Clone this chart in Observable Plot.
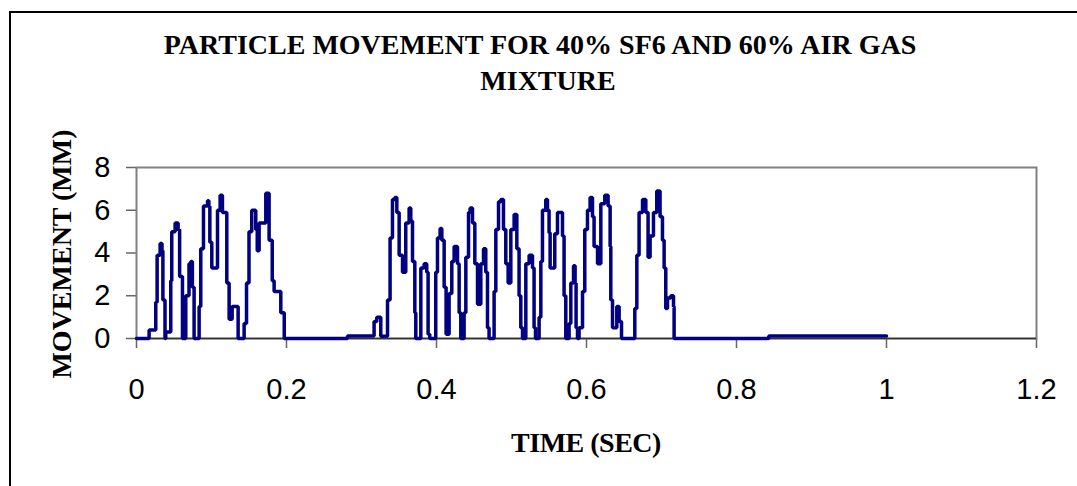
<!DOCTYPE html>
<html>
<head>
<meta charset="utf-8">
<script src="https://cdn.jsdelivr.net/npm/d3@7"></script>
<script src="https://cdn.jsdelivr.net/npm/@observablehq/plot@0.6"></script>
<style>
  html, body { margin: 0; padding: 0; background: #fff; overflow: hidden; }
  #wrap { position: relative; width: 1077px; height: 486px; overflow: hidden; background: #fff; }
  #outer { position: absolute; left: 9px; top: 11px; width: 1120px; height: 540px; border: 2.5px solid #000; box-sizing: border-box; }
  .ttl { position: absolute; font-family: "Liberation Serif", "Times New Roman", serif; font-weight: bold; font-size: 28px; color: #000; white-space: nowrap; line-height: 36px; }
  #chart { position: absolute; left: 0; top: 0; }
  #chart svg [aria-label="x-axis tick"] path, #chart svg [aria-label="y-axis tick"] path { stroke: #666; stroke-width: 1.5; }
</style>
</head>
<body>
<div id="wrap">
  <div id="outer"></div>
  <div id="chart"></div>
  <div class="ttl" id="t1" style="left:40px; width:1000px; top:27px; text-align:center;"></div>
  <div class="ttl" id="t2" style="left:48px; width:1000px; top:63px; text-align:center;"></div>
  <div class="ttl" id="xl" style="left:586px; top:443px; transform:translate(-50%,-50%); letter-spacing:-0.5px;"></div>
  <div class="ttl" id="yl" style="left:62px; top:254px; transform:translate(-50%,-50%) rotate(-90deg);"></div>
</div>
<script>
const titleLines = ["PARTICLE MOVEMENT FOR 40% SF6 AND 60% AIR GAS", "MIXTURE"];
const xTitle = "TIME (SEC)";
const yTitle = "MOVEMENT (MM)";
const xTicks = [0, 0.2, 0.4, 0.6, 0.8, 1, 1.2];
const yTicks = [0, 2, 4, 6, 8];

// time (sec) of each step and movement (mm) held from that time on
const times = [
  0, 0.0168, 0.0257, 0.0275, 0.0315, 0.034, 0.0352, 0.038, 0.039, 0.0457,
  0.047, 0.0515, 0.0555, 0.0575, 0.0613, 0.0657, 0.070, 0.0724, 0.0745, 0.0768,
  0.0835, 0.0857, 0.0893, 0.0947, 0.0965, 0.0978, 0.1004, 0.108, 0.1115, 0.1146,
  0.1204, 0.1235, 0.1275, 0.1355, 0.1435, 0.1467, 0.150, 0.1537, 0.159, 0.161,
  0.1635, 0.1724, 0.1768, 0.181, 0.1835, 0.1924, 0.197,
  0.2813, 0.3168, 0.3204, 0.3257, 0.3347, 0.3381, 0.3413, 0.3444, 0.3471, 0.3502,
  0.3547, 0.359, 0.3635, 0.3657, 0.368, 0.3711, 0.3724, 0.3791, 0.3835, 0.387,
  0.3888, 0.391, 0.399, 0.4013, 0.4048, 0.4071, 0.4102, 0.4128, 0.4168, 0.4204,
  0.4235, 0.428, 0.4302, 0.4324, 0.4368, 0.4391, 0.4427, 0.4448, 0.448, 0.4511,
  0.4547, 0.4591, 0.4627, 0.4657, 0.468, 0.4701, 0.4768, 0.4791, 0.4827, 0.4857,
  0.4893, 0.4924, 0.4955, 0.4991, 0.5035, 0.5071, 0.5101, 0.5124, 0.5147, 0.5191,
  0.5235, 0.528, 0.5301, 0.532, 0.5368, 0.5391, 0.5413, 0.5457, 0.548, 0.5501,
  0.5515, 0.5577, 0.5613, 0.568, 0.5701, 0.5724, 0.5768, 0.5791, 0.5827, 0.5848,
  0.5861, 0.588, 0.5901, 0.5947, 0.5977, 0.6013, 0.6048, 0.608, 0.6101, 0.6147,
  0.6191, 0.6244, 0.6288, 0.6315, 0.6324, 0.6347, 0.6404, 0.6435, 0.6467, 0.6644,
  0.6671, 0.6701, 0.6747, 0.6791, 0.6821, 0.6848, 0.6893, 0.6937, 0.6981, 0.7013,
  0.7035, 0.7057, 0.708, 0.7124, 0.716, 0.7168, 0.843, 1.0
];
const movement = [
  0, 0.4, 1.7, 3.9, 4.45, 4.1, 1.8, 0, 0.3, 2.7,
  5.0, 5.4, 5.1, 2.9, 0, 2.0, 3.5, 3.6, 2.4, 0,
  1.5, 4.2, 6.2, 6.45, 6.2, 4.5, 3.3, 6.0, 6.7, 5.9,
  2.6, 0.9, 1.5, 0, 0.7, 2.6, 5.0, 6.0, 5.1, 4.1,
  5.4, 6.8, 4.6, 2.7, 2.2, 1.2, 0,
  0.12, 0.8, 1.0, 0.1, 1.8, 4.7, 6.5, 6.6, 5.9, 3.9,
  3.1, 5.4, 6.1, 5.5, 3.6, 1.2, 0, 3.3, 3.5, 3.1,
  0.2, 0, 3.1, 4.7, 5.15, 4.6, 2.4, 0.2, 2.1, 3.6,
  4.3, 3.5, 1.2, 0, 1.2, 3.8, 5.9, 6.1, 5.4, 3.5,
  1.6, 3.5, 4.2, 3.1, 0.5, 0, 2.2, 5.1, 6.4, 6.5,
  5.1, 3.5, 2.6, 5.1, 5.8, 4.2, 2.0, 0.5, 0, 3.5,
  3.9, 3.3, 0.5, 0, 1.0, 3.6, 6.0, 6.5, 6.0, 4.95,
  3.3, 4.9, 5.9, 4.8, 2.0, 0, 0.7, 2.6, 3.4, 2.6,
  0.5, 0, 0.5, 2.2, 5.1, 6.0, 6.6, 5.7, 4.3, 3.5,
  6.3, 6.7, 6.2, 4.3, 1.8, 0.5, 1.5, 0.8, 0, 1.4,
  3.9, 5.9, 6.5, 5.9, 3.8, 4.8, 5.9, 6.9, 5.7, 4.6,
  3.3, 1.4, 1.9, 2.0, 1.5, 0, 0.12, 0.12
];

const data = times.map((t, i) => ({t, v: movement[i]}));

document.getElementById("t1").textContent = titleLines[0];
document.getElementById("t2").textContent = titleLines[1];
document.getElementById("xl").textContent = xTitle;
document.getElementById("yl").textContent = yTitle;

const chart = Plot.plot({
  width: 1077,
  height: 486,
  marginLeft: 136,
  marginRight: 41,
  marginTop: 167,
  marginBottom: 148,
  style: {fontFamily: "'Liberation Sans', Arial, sans-serif", fontSize: "29px", color: "#000", background: "transparent"},
  x: {domain: [0, 1.2], ticks: xTicks, tickSize: 10, tickPadding: 30, tickFormat: d => String(Math.round(d * 10) / 10), label: null},
  y: {domain: [0, 8], ticks: yTicks, tickSize: 10, tickPadding: 16, tickFormat: d => String(d), label: null},
  marks: [
    Plot.frame({stroke: "#808080", strokeWidth: 2}),
    Plot.ruleY([0], {stroke: "#333", strokeWidth: 1.5}),
    Plot.line(data, {x: "t", y: "v", curve: "step-after", stroke: "#000080", strokeWidth: 3.5, strokeLinejoin: "miter"})
  ]
});
document.getElementById("chart").appendChild(chart);
</script>
</body>
</html>
